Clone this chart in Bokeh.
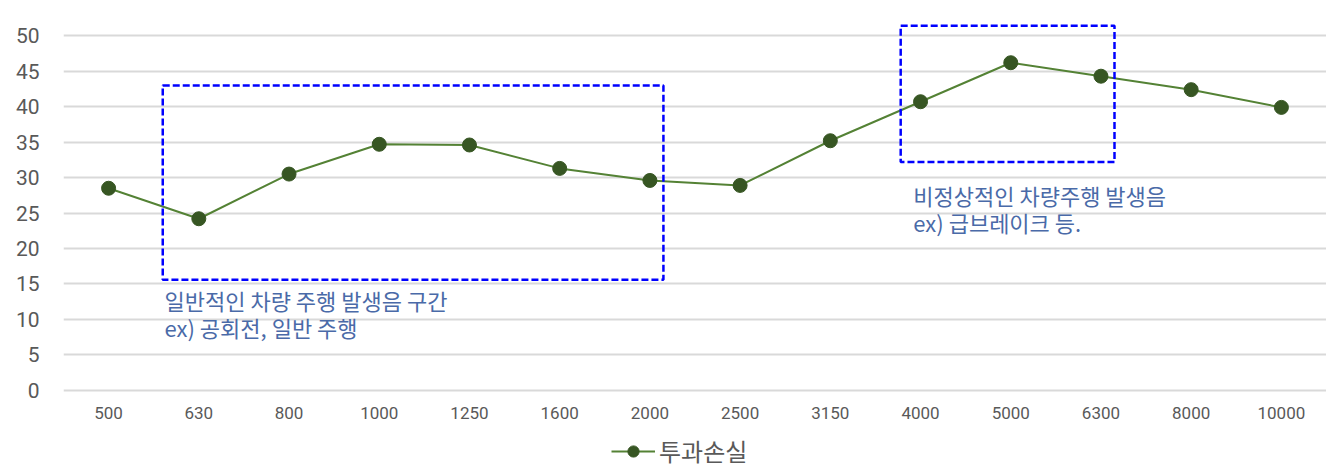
from bokeh.plotting import figure
from bokeh.layouts import column
from bokeh.models import Range1d, FixedTicker, Legend, LegendItem, ColumnDataSource
from bokeh.core.properties import value
from bokeh.embed import file_html
from bokeh.resources import INLINE

categories = ["500", "630", "800", "1000", "1250", "1600", "2000", "2500",
              "3150", "4000", "5000", "6300", "8000", "10000"]
loss = [28.5, 24.2, 30.5, 34.7, 34.6, 31.3, 29.6, 28.9, 35.2, 40.7, 46.2, 44.3, 42.4, 39.9]
series_name = "투과손실"

# annotation boxes (x in category-index units, y in data units)
box_left = [0.6, 8.78]
box_right = [6.15, 11.15]
box_top = [43.0, 51.4]
box_bottom = [15.6, 32.2]

note_x = [0.62, 0.62, 8.92, 8.92]
note_y = [12.7, 8.9, 27.6, 23.8]
note_text = ["일반적인 차량 주행 발생음 구간", "ex) 공회전, 일반 주행",
             "비정상적인 차량주행 발생음", "ex) 급브레이크 등."]

x_idx = list(range(len(categories)))
TICK_FONT = "Roboto"
LINE_COLOR = "#548235"
MARK_COLOR = "#375623"

p = figure(width=1326, height=428, output_backend="svg", toolbar_location=None,
           x_range=Range1d(-0.5, 13.5), y_range=Range1d(-0.3, 53),
           min_border_left=63, min_border_right=0, min_border_top=14, min_border_bottom=36)
p.outline_line_color = None
p.background_fill_color = "white"
p.border_fill_color = "white"

p.xgrid.grid_line_color = None
p.ygrid.ticker = FixedTicker(ticks=list(range(0, 51, 5)))
p.ygrid.grid_line_color = "#d9d9d9"
p.ygrid.grid_line_width = 2

p.yaxis.ticker = FixedTicker(ticks=list(range(0, 51, 5)))
p.yaxis.axis_line_color = None
p.yaxis.major_tick_line_color = None
p.yaxis.minor_tick_line_color = None
p.yaxis.major_label_text_font = TICK_FONT
p.yaxis.major_label_text_font_size = "21px"
p.yaxis.major_label_text_color = "#595959"
p.yaxis.major_label_standoff = 18

p.xaxis.ticker = FixedTicker(ticks=x_idx)
p.xaxis.major_label_overrides = {i: c for i, c in enumerate(categories)}
p.xaxis.axis_line_color = None
p.xaxis.major_tick_line_color = None
p.xaxis.minor_tick_line_color = None
p.xaxis.major_label_text_font = TICK_FONT
p.xaxis.major_label_text_font_size = "17px"
p.xaxis.major_label_text_color = "#595959"
p.xaxis.major_label_standoff = 8

src = ColumnDataSource(dict(x=x_idx, y=loss))
p.line("x", "y", source=src, line_color=LINE_COLOR, line_width=2)
p.scatter("x", "y", source=src, size=14, fill_color=MARK_COLOR, line_color=MARK_COLOR)

p.quad(left=box_left, right=box_right, top=box_top, bottom=box_bottom,
       fill_color=None, line_color="#0000ff", line_width=2.5, line_dash="7 3")

p.text(x=note_x, y=note_y, text=note_text, text_font=value("Noto Sans CJK KR"),
       text_font_size="22px", text_color="#4a6aa8", text_baseline="middle", text_align="left")

# legend strip below the chart (series drawn out of view, only the legend shows)
lg = figure(width=1326, height=40, output_backend="svg", toolbar_location=None,
            x_range=Range1d(-0.5, 13.5), y_range=Range1d(-100, -90),
            min_border_left=0, min_border_right=0, min_border_top=0, min_border_bottom=0)
lg.axis.visible = False
lg.grid.visible = False
lg.outline_line_color = None
lg.border_fill_color = "white"
ln2 = lg.line("x", "y", source=src, line_color=LINE_COLOR, line_width=2)
sc2 = lg.scatter("x", "y", source=src, size=14, fill_color=MARK_COLOR, line_color=MARK_COLOR)
legend = Legend(items=[LegendItem(label=series_name, renderers=[ln2, sc2])],
                orientation="horizontal", location=(548, 0),
                label_text_font="Noto Sans CJK KR", label_text_font_size="24px",
                label_text_color="#595959", glyph_width=44, glyph_height=28,
                border_line_color=None, background_fill_alpha=0,
                padding=1, margin=0, label_standoff=4)
lg.add_layout(legend, "center")

layout = column(p, lg, spacing=0)
open("out.html", "w").write(file_html(layout, INLINE))
